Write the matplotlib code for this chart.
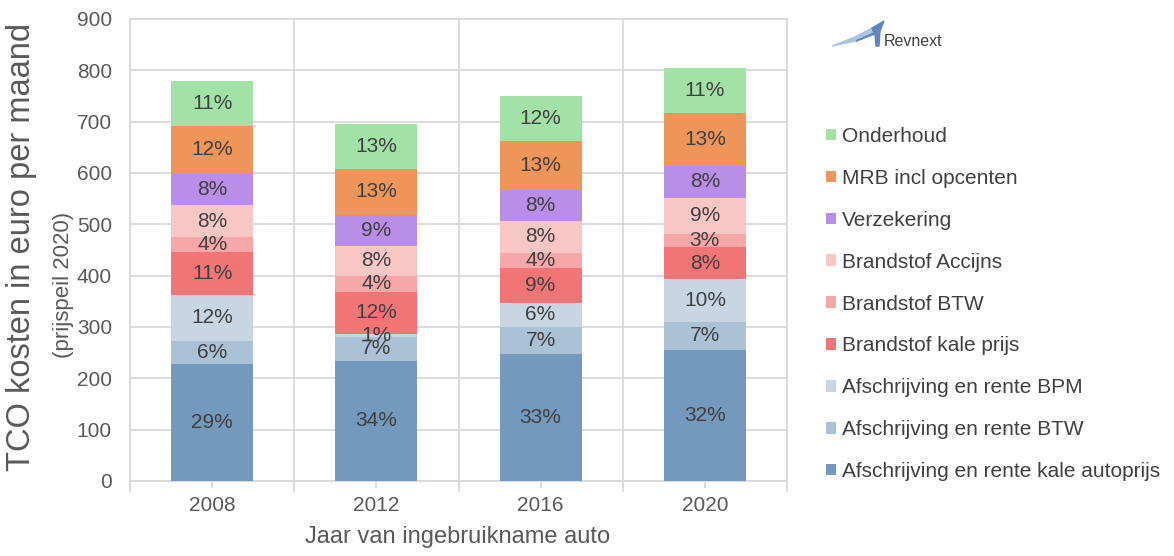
import matplotlib.pyplot as plt
import numpy as np
from matplotlib.patches import Polygon

plt.rcParams['font.family'] = ['Liberation Sans', 'DejaVu Sans']

# kosten per maand in euro, van onder naar boven gestapeld
jaren = ["2008", "2012", "2016", "2020"]
categorieen = [
    "Afschrijving en rente kale autoprijs",
    "Afschrijving en rente BTW",
    "Afschrijving en rente BPM",
    "Brandstof kale prijs",
    "Brandstof BTW",
    "Brandstof Accijns",
    "Verzekering",
    "MRB incl opcenten",
    "Onderhoud",
]
kale_autoprijs = [228, 234, 248, 255]
auto_btw = [45, 47, 52, 55]
auto_bpm = [90, 6, 47, 84]
brandstof_kaal = [83, 82, 68, 61]
brandstof_btw = [29, 31, 29, 27]
brandstof_accijns = [62, 58, 63, 70]
verzekering = [62, 61, 60, 62]
mrb = [93, 89, 95, 102]
onderhoud = [88, 88, 88, 88]

kleuren = ["#7399BC", "#AAC1D6", "#C8D6E4", "#F27576", "#F6A8A8",
           "#F9C6C6", "#B98EE6", "#EE9559", "#A3E2A6"]

reeksen = [kale_autoprijs, auto_btw, auto_bpm, brandstof_kaal, brandstof_btw,
           brandstof_accijns, verzekering, mrb, onderhoud]

W, H = 1174, 556
fig = plt.figure(figsize=(W / 100, H / 100), dpi=100)
ax = fig.add_axes([130 / W, 1 - 481 / H, 657 / W, 462 / H])

x = np.arange(len(jaren))
totaal = np.sum(reeksen, axis=0)
bodem = np.zeros(len(jaren))
handles = []
for naam, waarden, kleur in zip(categorieen, reeksen, kleuren):
    waarden = np.array(waarden, dtype=float)
    bars = ax.bar(x, waarden, 0.5, bottom=bodem, color=kleur, label=naam, zorder=3)
    handles.append(bars)
    for xi, b, w, t in zip(x, bodem, waarden, totaal):
        ax.text(xi, b + w / 2, f"{round(100 * w / t):.0f}%", ha="center", va="center",
                fontsize=15, color="#404040", zorder=4)
    bodem += waarden

ax.set_xlim(-0.5, 3.5)
ax.set_ylim(0, 900)
ax.set_yticks(range(0, 901, 100))
ax.set_xticks(x)
ax.set_xticklabels(jaren)
ax.set_xticks(np.arange(-0.5, 3.6, 1), minor=True)

ax.grid(True, which="minor", axis="x", color="#D9D9D9", linewidth=1.3, zorder=0)
ax.grid(True, which="major", axis="y", color="#D9D9D9", linewidth=1.3, zorder=0)
for s in ax.spines.values():
    s.set_color("#D9D9D9")
    s.set_linewidth(1.3)
ax.tick_params(axis="x", which="major", length=5, color="#D9D9D9", width=1.3,
               labelsize=15, labelcolor="#595959", pad=6)
ax.tick_params(axis="x", which="minor", length=8, color="#D9D9D9", width=1.3)
ax.tick_params(axis="y", length=0, labelsize=15, labelcolor="#595959", pad=13)

fig.text(458 / W, 1 - 537 / H, "Jaar van ingebruikname auto", ha="center", va="center",
         fontsize=17, color="#595959")
fig.text(22 / W, 1 - 247 / H, "TCO kosten in euro per maand", rotation=90,
         ha="center", va="center", fontsize=23.5, color="#595959")
fig.text(63 / W, 1 - 285 / H, "(prijspeil 2020)", rotation=90,
         ha="center", va="center", fontsize=16, color="#595959")

# legenda in omgekeerde volgorde
fig.legend(handles[::-1], categorieen[::-1], loc="center left",
           bbox_to_anchor=(826 / W, 1 - 304 / H), frameon=False,
           fontsize=15, labelcolor="#404040", handlelength=0.47, handleheight=0.47,
           handletextpad=0.3, labelspacing=1.1, borderpad=0, borderaxespad=0)

# logo: vleugel in twee tinten blauw plus naam
def px(pts):
    return [(a / W, 1 - b / H) for a, b in pts]

vleugel_licht = Polygon(px([(832, 46), (855, 37), (872, 28), (874, 33), (856, 41)]),
                        closed=True, transform=fig.transFigure, color="#A9C3E3", zorder=5)
vleugel_donker = Polygon(px([(856, 41), (874, 33), (872, 28), (884, 21), (880, 31),
                             (879, 46), (876, 46), (875, 34)]),
                         closed=True, transform=fig.transFigure, color="#5F86BA", zorder=5)
fig.patches.extend([vleugel_licht, vleugel_donker])
fig.text(884 / W, 1 - 41 / H, "Revnext", fontsize=11.5, color="#404040",
         ha="left", va="center")

fig.savefig("out.png", dpi=100)
